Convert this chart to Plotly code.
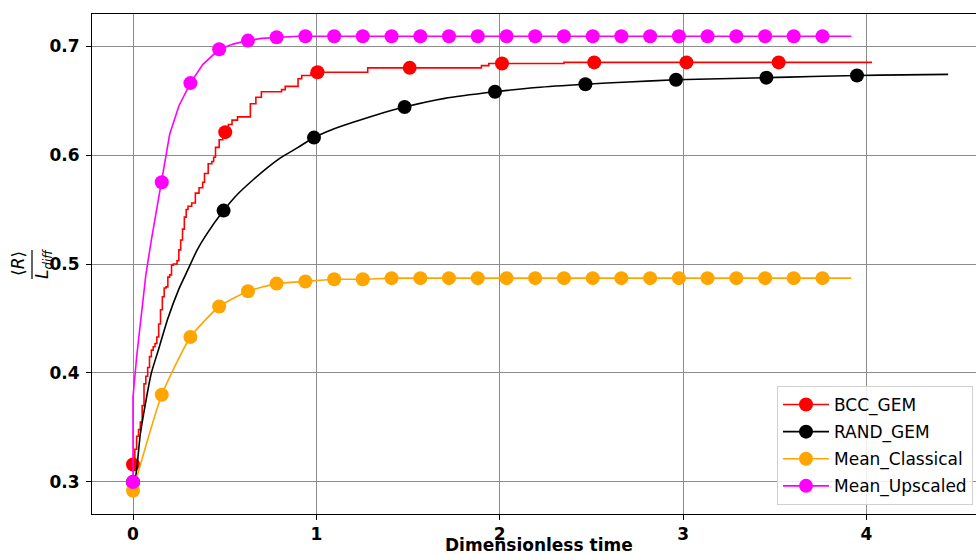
import plotly.graph_objects as go

# ---------------- data ----------------
series_names = ["BCC_GEM", "RAND_GEM", "Mean_Classical", "Mean_Upscaled"]
series_colors = ["#ff0000", "#000000", "#ffa500", "#ff00ff"]

# BCC_GEM (staircase)
bcc_x = [0, 0.01, 0.02, 0.03, 0.04, 0.05, 0.06, 0.07, 0.08, 0.09, 0.10, 0.11, 0.12, 0.13,
         0.14, 0.15, 0.16, 0.17, 0.18, 0.19, 0.20, 0.21, 0.22, 0.24, 0.25, 0.26, 0.27, 0.28,
         0.29, 0.30, 0.32, 0.34, 0.36, 0.38, 0.39, 0.41, 0.43, 0.44, 0.45, 0.47, 0.49, 0.51,
         0.52, 0.54, 0.57, 0.64, 0.67, 0.70, 0.81, 0.83, 0.90, 0.92, 0.97, 1.00, 1.28, 1.90,
         1.94, 2.35, 4.03]
bcc_y = [0.316, 0.330, 0.342, 0.348, 0.355, 0.370, 0.390, 0.397, 0.405, 0.415, 0.421, 0.424,
         0.427, 0.433, 0.445, 0.458, 0.470, 0.478, 0.479, 0.488, 0.490, 0.499, 0.500, 0.503,
         0.513, 0.522, 0.532, 0.543, 0.550, 0.553, 0.556, 0.565, 0.570, 0.575, 0.583, 0.592,
         0.594, 0.598, 0.607, 0.614, 0.618, 0.621, 0.628, 0.632, 0.635, 0.647, 0.653, 0.658,
         0.660, 0.663, 0.670, 0.673, 0.675, 0.676, 0.680, 0.682, 0.684, 0.685, 0.685]
bcc_mx = [0, 0.503, 1.006, 1.509, 2.012, 2.515, 3.018, 3.521]
bcc_my = [0.316, 0.621, 0.676, 0.680, 0.684, 0.685, 0.685, 0.685]

# RAND_GEM (smooth)
rand_x = [0, 0.011, 0.04, 0.07, 0.10, 0.14, 0.19, 0.25, 0.30, 0.35, 0.40, 0.494, 0.57, 0.66,
          0.73, 0.80, 0.90, 0.987, 1.08, 1.2, 1.33, 1.48, 1.7, 1.974, 2.2, 2.467, 2.7, 2.96,
          3.2, 3.45, 3.7, 3.95, 4.2, 4.445]
rand_y = [0.300, 0.302, 0.344, 0.374, 0.400, 0.422, 0.450, 0.477, 0.495, 0.513, 0.527, 0.549,
          0.564, 0.578, 0.588, 0.597, 0.607, 0.616, 0.623, 0.630, 0.637, 0.644, 0.652, 0.658,
          0.662, 0.665, 0.667, 0.669, 0.670, 0.671, 0.672, 0.673, 0.6735, 0.674]
rand_mx = [0, 0.494, 0.987, 1.481, 1.974, 2.467, 2.961, 3.454, 3.948]
rand_my = [0.300, 0.549, 0.616, 0.644, 0.658, 0.665, 0.669, 0.671, 0.673]

# Mean_Classical
cls_x = [0, 0.157, 0.313, 0.470, 0.627, 0.783, 0.940, 1.097, 1.253, 1.410, 1.567, 1.723,
         1.880, 2.037, 2.193, 2.350, 2.507, 2.663, 2.820, 2.977, 3.133, 3.290, 3.447, 3.603,
         3.760, 3.917]
cls_y = [0.292, 0.380, 0.433, 0.461, 0.475, 0.482, 0.484, 0.486, 0.486, 0.487, 0.487, 0.487,
         0.487, 0.487, 0.487, 0.487, 0.487, 0.487, 0.487, 0.487, 0.487, 0.487, 0.487, 0.487,
         0.487, 0.487]

# Mean_Upscaled
ups_line_x = [0, 0.0, 0.02, 0.04, 0.07, 0.10, 0.13, 0.157, 0.20, 0.25, 0.313, 0.38, 0.47,
              0.55, 0.627, 0.70, 0.783, 0.90, 1.10, 1.50, 2.00, 3.00, 3.917]
ups_line_y = [0.300, 0.378, 0.415, 0.446, 0.490, 0.522, 0.552, 0.575, 0.619, 0.645, 0.666,
              0.683, 0.697, 0.702, 0.705, 0.707, 0.708, 0.709, 0.709, 0.709, 0.709, 0.709, 0.709]
ups_mx = cls_x[:-1]
ups_my = [0.300, 0.575, 0.666, 0.697, 0.705, 0.708, 0.709, 0.709, 0.709, 0.709, 0.709, 0.709,
          0.709, 0.709, 0.709, 0.709, 0.709, 0.709, 0.709, 0.709, 0.709, 0.709, 0.709, 0.709,
          0.709]

x_ticks = [0, 1, 2, 3, 4]
y_ticks = [0.3, 0.4, 0.5, 0.6, 0.7]

# ---------------- figure ----------------
W, H = 976, 554
ML, MR, MT, MB = 92, 0, 14, 40
LW = 1.6
MS = 14

fig = go.Figure()

fig.add_trace(go.Scatter(x=bcc_x, y=bcc_y, mode="lines", line=dict(color=series_colors[0], width=LW, shape="hv"),
                         showlegend=False, hoverinfo="skip"))
fig.add_trace(go.Scatter(x=bcc_mx, y=bcc_my, mode="markers", marker=dict(color=series_colors[0], size=MS),
                         showlegend=False))
fig.add_trace(go.Scatter(x=rand_x, y=rand_y, mode="lines", line=dict(color=series_colors[1], width=LW, shape="spline", smoothing=0.6),
                         showlegend=False, hoverinfo="skip"))
fig.add_trace(go.Scatter(x=rand_mx, y=rand_my, mode="markers", marker=dict(color=series_colors[1], size=MS),
                         showlegend=False))
fig.add_trace(go.Scatter(x=cls_x, y=cls_y, mode="lines", line=dict(color=series_colors[2], width=LW, shape="spline", smoothing=0.5),
                         showlegend=False, hoverinfo="skip"))
fig.add_trace(go.Scatter(x=cls_x[:-1], y=cls_y[:-1], mode="markers", marker=dict(color=series_colors[2], size=MS),
                         showlegend=False))
fig.add_trace(go.Scatter(x=ups_line_x, y=ups_line_y, mode="lines", line=dict(color=series_colors[3], width=LW),
                         showlegend=False, hoverinfo="skip"))
fig.add_trace(go.Scatter(x=ups_mx, y=ups_my, mode="markers", marker=dict(color=series_colors[3], size=MS),
                         showlegend=False))

for name, col in zip(series_names, series_colors):
    fig.add_trace(go.Scatter(x=[None], y=[None], mode="lines+markers", name=name, legendgroup=name,
                             line=dict(color=col, width=LW), marker=dict(color=col, size=MS)))

axis_font = dict(family="DejaVu Sans", size=17, color="black", weight="bold")

fig.update_xaxes(range=[-0.2236, 4.597], tickvals=x_ticks, ticktext=[str(v) for v in x_ticks],
                 showgrid=True, gridcolor="#8c8c8c", gridwidth=1, zeroline=False,
                 showline=True, linecolor="black", linewidth=1, mirror=True,
                 ticks="outside", ticklen=5, tickcolor="black", tickfont=axis_font)
fig.update_yaxes(range=[0.2706, 0.7294], tickvals=y_ticks, ticktext=[f"{v:.1f}" for v in y_ticks],
                 showgrid=True, gridcolor="#8c8c8c", gridwidth=1, zeroline=False,
                 showline=True, linecolor="black", linewidth=1, mirror=False,
                 ticks="outside", ticklen=5, tickcolor="black", tickfont=axis_font,
                 ticklabelstandoff=3)

pw = W - ML - MR
ph = H - MT - MB

def px_x(p):
    return (p - ML) / pw

def px_y(p):
    return (H - MB - p) / ph

annotations = [
    dict(text="<b>Dimensionless time</b>", x=px_x(539), y=px_y(545), xref="paper", yref="paper",
         showarrow=False, font=dict(family="DejaVu Sans", size=17, color="black"),
         xanchor="center", yanchor="middle"),
    dict(text="⟨<i>R</i>⟩", x=px_x(18), y=px_y(264), xref="paper", yref="paper", textangle=-90,
         showarrow=False, font=dict(family="DejaVu Sans", size=17, color="black"),
         xanchor="center", yanchor="middle"),
    dict(text="<i>L<sub>diff</sub></i>", x=px_x(43), y=px_y(264), xref="paper", yref="paper", textangle=-90,
         showarrow=False, font=dict(family="DejaVu Sans", size=17, color="black"),
         xanchor="center", yanchor="middle"),
]

shapes = [
    dict(type="line", xref="paper", yref="paper", x0=px_x(32), x1=px_x(32), y0=px_y(250), y1=px_y(279),
         line=dict(color="black", width=1.2)),
]

fig.update_layout(
    width=W, height=H,
    margin=dict(l=ML, r=MR, t=MT, b=MB, autoexpand=False),
    plot_bgcolor="white", paper_bgcolor="white",
    font=dict(family="DejaVu Sans", size=17, color="black"),
    annotations=annotations, shapes=shapes,
    legend=dict(x=px_x(777), y=px_y(505), xanchor="left", yanchor="bottom",
                bgcolor="rgba(255,255,255,0.85)", bordercolor="#d0d0d0", borderwidth=1,
                font=dict(family="DejaVu Sans", size=17, color="black"),
                itemwidth=46, tracegroupgap=2, traceorder="grouped"),
    showlegend=True,
)

fig.write_html("out.html", config={"displayModeBar": False},
               post_script="document.body.style.margin='0';document.body.style.overflow='hidden';")
